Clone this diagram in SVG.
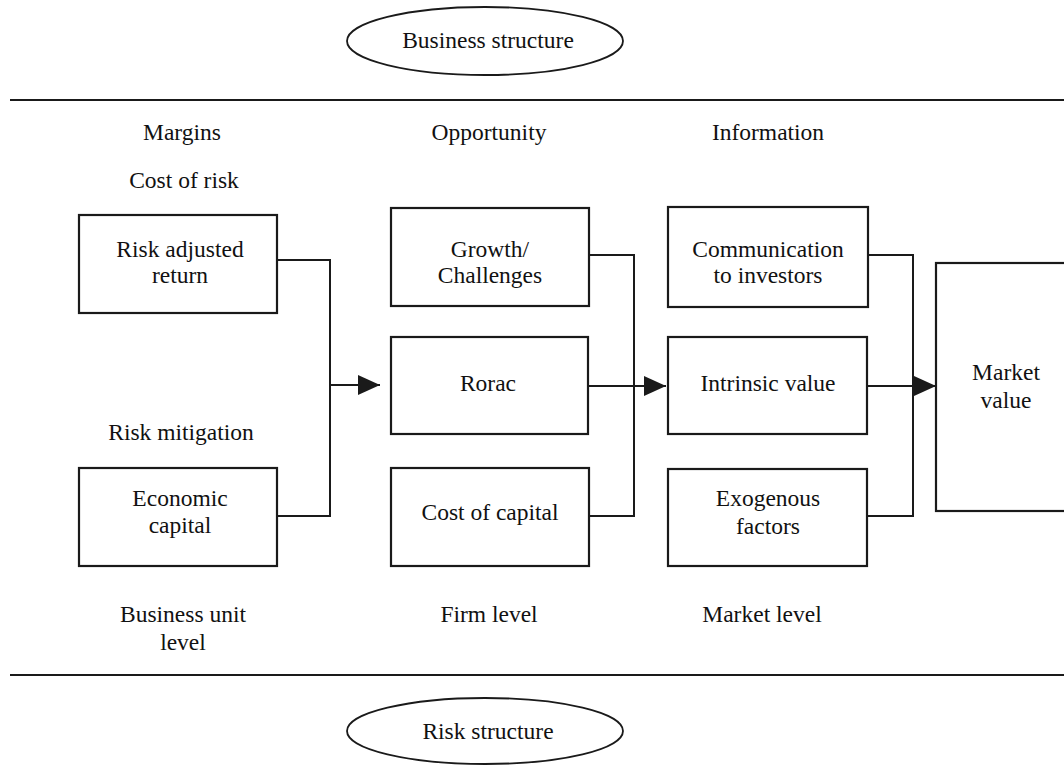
<svg xmlns="http://www.w3.org/2000/svg" width="1064" height="765" viewBox="0 0 1064 765">
<style>
text{font-family:"Liberation Serif","Times New Roman",serif;font-size:23.5px;fill:#111;text-anchor:middle}
.box{fill:#fff;stroke:#1a1a1a;stroke-width:2.2}
.ell{fill:none;stroke:#1a1a1a;stroke-width:1.8}
.rule{stroke:#1a1a1a;stroke-width:2.2}
.conn{fill:none;stroke:#1a1a1a;stroke-width:2}
</style>
<defs>
<marker id="ah" viewBox="0 0 22 20" refX="22" refY="10" markerWidth="22" markerHeight="20" markerUnits="userSpaceOnUse" orient="auto">
<path d="M0,0 L22,10 L0,20 Z" fill="#1a1a1a"/>
</marker>
</defs>
<rect width="1064" height="765" fill="#fff"/>

<g id="business-structure">
<ellipse class="ell" cx="485" cy="41" rx="138" ry="34"/>
<text x="488" y="48">Business structure</text>
</g>
<line class="rule" x1="10" y1="100" x2="1064" y2="100"/>
<line class="rule" x1="10" y1="675" x2="1064" y2="675"/>
<g id="risk-structure">
<ellipse class="ell" cx="485" cy="731" rx="138" ry="33"/>
<text x="488" y="739">Risk structure</text>
</g>

<g id="labels">
<text x="182" y="140">Margins</text>
<text x="489" y="140">Opportunity</text>
<text x="768" y="140">Information</text>
<text x="184" y="188">Cost of risk</text>
<text x="181" y="440">Risk mitigation</text>
<text x="183" y="622">Business unit</text>
<text x="183" y="650">level</text>
<text x="489" y="622">Firm level</text>
<text x="762" y="622">Market level</text>
</g>

<g id="risk-adjusted-return">
<rect class="box" x="79" y="215" width="198" height="98"/>
<text x="180" y="257">Risk adjusted</text>
<text x="180" y="283">return</text>
</g>
<g id="economic-capital">
<rect class="box" x="79" y="468" width="198" height="98"/>
<text x="180" y="506">Economic</text>
<text x="180" y="533">capital</text>
</g>
<g id="growth-challenges">
<rect class="box" x="391" y="208" width="198" height="98"/>
<text x="490" y="257">Growth/</text>
<text x="490" y="283">Challenges</text>
</g>
<g id="rorac">
<rect class="box" x="391" y="337" width="197" height="97"/>
<text x="488" y="391">Rorac</text>
</g>
<g id="cost-of-capital">
<rect class="box" x="391" y="468" width="198" height="98"/>
<text x="490" y="520">Cost of capital</text>
</g>
<g id="communication">
<rect class="box" x="668" y="207" width="200" height="100"/>
<text x="768" y="257">Communication</text>
<text x="768" y="283">to investors</text>
</g>
<g id="intrinsic-value">
<rect class="box" x="668" y="337" width="199" height="97"/>
<text x="768" y="391">Intrinsic value</text>
</g>
<g id="exogenous-factors">
<rect class="box" x="668" y="469" width="199" height="97"/>
<text x="768" y="506">Exogenous</text>
<text x="768" y="534">factors</text>
</g>
<g id="market-value">
<rect class="box" x="936" y="263" width="150" height="248"/>
<text x="1006" y="380">Market</text>
<text x="1006" y="408">value</text>
</g>

<g id="connectors">
<polyline class="conn" points="277,260 330,260 330,516 277,516"/>
<line class="conn" x1="330" y1="385" x2="380" y2="385" marker-end="url(#ah)"/>
<polyline class="conn" points="589,255 634,255 634,516 589,516"/>
<line class="conn" x1="588" y1="386" x2="666" y2="386" marker-end="url(#ah)"/>
<polyline class="conn" points="868,255 913,255 913,516 867,516"/>
<line class="conn" x1="867" y1="386" x2="936" y2="386" marker-end="url(#ah)"/>
</g>
</svg>
